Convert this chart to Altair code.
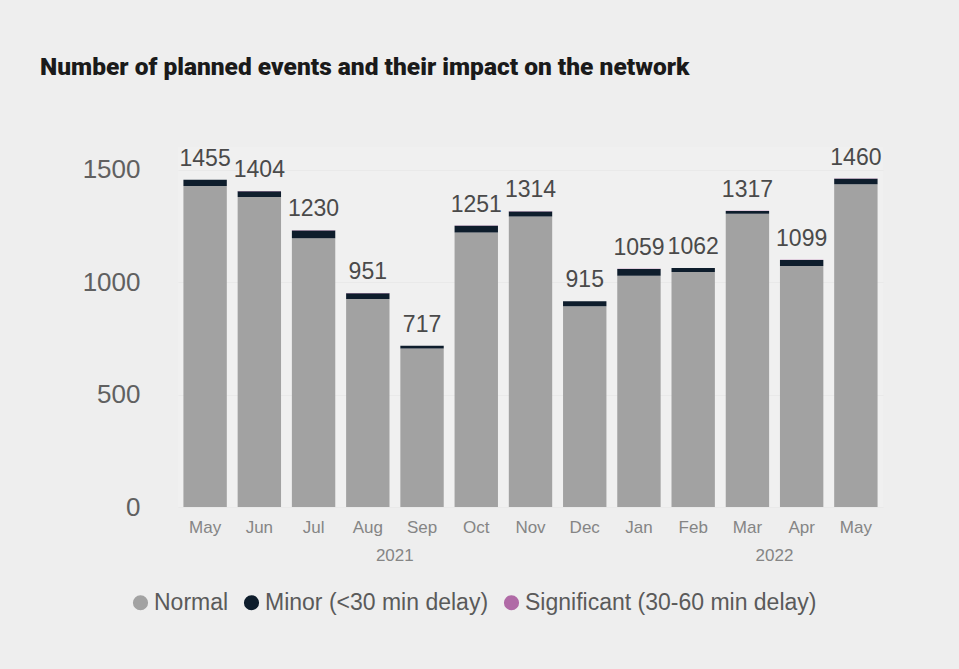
import altair as alt
import pandas as pd

months = ["May", "Jun", "Jul", "Aug", "Sep", "Oct", "Nov", "Dec",
          "Jan", "Feb", "Mar", "Apr", "May"]
years = ["2021"] * 8 + ["2022"] * 5
totals = [1455, 1404, 1230, 951, 717, 1251, 1314, 915, 1059, 1062, 1317, 1099, 1460]
minor = [27, 25, 35, 25, 12, 30, 22, 22, 30, 18, 13, 27, 25]
significant = [1, 1, 1, 1, 0, 1, 1, 1, 1, 0, 1, 1, 1]

year_labels = ["2021", "2022"]
year_anchor = ["Aug 2021", "Mar 2022"]

categories = ["Normal", "Minor (<30 min delay)", "Significant (30-60 min delay)"]
colors = ["#a2a2a2", "#0e1d2c", "#b06aa6"]

keys = [f"{m} {y}" for m, y in zip(months, years)]

rows = []
for k, m, t, mi, s in zip(keys, months, totals, minor, significant):
    rows.append({"key": k, "month": m, "cat": categories[0], "value": t - mi - s, "ord": 0})
    rows.append({"key": k, "month": m, "cat": categories[1], "value": mi, "ord": 1})
    rows.append({"key": k, "month": m, "cat": categories[2], "value": s, "ord": 2})
df = pd.DataFrame(rows)
tot_df = pd.DataFrame({"key": keys, "total": totals})
yr_df = pd.DataFrame({"key": year_anchor, "year": year_labels})

xscale = alt.Scale(domain=keys, paddingInner=0.2, paddingOuter=0.1)
yscale = alt.Scale(domain=[0, 1600])

bars = alt.Chart(df).mark_bar().encode(
    x=alt.X("key:N", scale=xscale, title=None,
            axis=alt.Axis(labelExpr="split(datum.value, ' ')[0]", labelAngle=0,
                          labelFontSize=17, labelColor="#858585", labelFont="Liberation Sans",
                          ticks=False, tickSize=0, domain=False, labelPadding=12)),
    y=alt.Y("value:Q", stack="zero", scale=yscale, title=None,
            axis=alt.Axis(values=[0, 500, 1000, 1500], format="d", labelFontSize=26,
                          labelColor="#606060",
                          labelFont="Liberation Sans", ticks=False, tickSize=0, domain=False,
                          labelPadding=38, grid=True, gridColor="#e9e9e9")),
    color=alt.Color("cat:N", scale=alt.Scale(domain=categories, range=colors),
                    legend=alt.Legend(title=None, orient="none", direction="horizontal",
                                      legendX=-49, legendY=444, symbolType="circle",
                                      symbolSize=230, symbolStrokeWidth=0,
                                      labelFontSize=23, labelColor="#5a5a5a",
                                      labelFont="Liberation Sans", labelOffset=2,
                                      labelLimit=0, columnPadding=11)),
    order=alt.Order("ord:Q"),
)

labels = alt.Chart(tot_df).mark_text(
    baseline="alphabetic", dy=-14, fontSize=23, color="#4a4a4a", font="Liberation Sans"
).encode(
    x=alt.X("key:N", scale=xscale),
    y=alt.Y("total:Q", scale=yscale),
    text="total:Q",
)

yrs = alt.Chart(yr_df).mark_text(
    fontSize=17, color="#858585", font="Liberation Sans", baseline="middle", dx=27
).encode(
    x=alt.X("key:N", scale=xscale),
    y=alt.value(409),
    text="year:N",
)

chart = alt.layer(bars, labels, yrs).properties(
    width=705,
    height=360,
    title=alt.TitleParams(
        "Number of planned events and their impact on the network",
        anchor="start", frame="group", dx=-138, dy=-62,
        font="Roboto", fontWeight=900, fontSize=24.5, color="#1a1a1a",
    ),
    padding={"left": 178, "top": 147, "right": 76, "bottom": 162},
    autosize=alt.AutoSizeParams(type="none"),
    background="#eeeeee",
).configure_view(stroke=None, fill="#f0f0f0")

chart.save("out.html", embed_options={"renderer": "svg", "actions": False})
